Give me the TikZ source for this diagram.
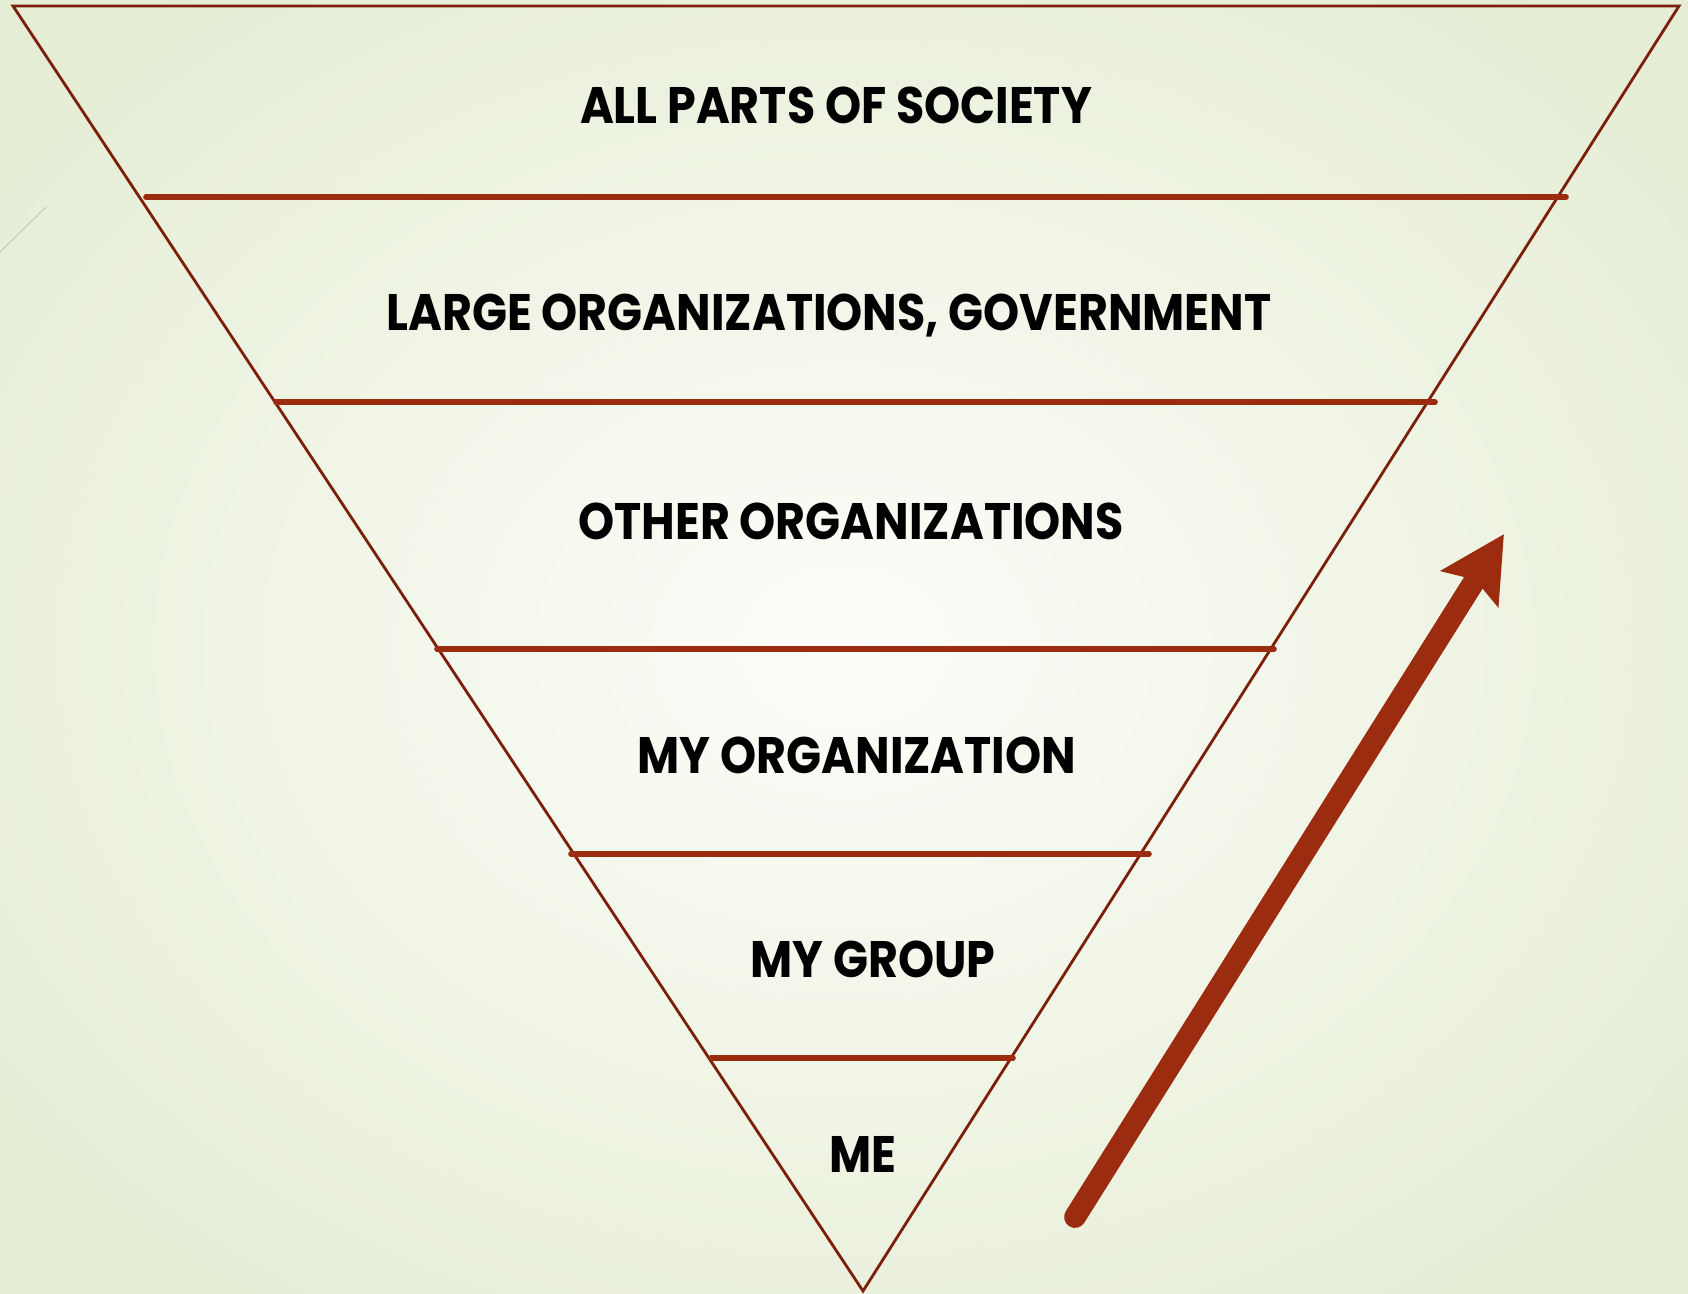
\documentclass[tikz,border=0pt]{standalone}
\usepackage{fontspec}
\setmainfont{Poppins}[FakeStretch=0.895]
\usetikzlibrary{arrows.meta,shadings}

\definecolor{rust}{HTML}{9B2C10}
\definecolor{darkrust}{HTML}{7C1F0B}
\definecolor{paleleaf}{HTML}{E5EDD4}
\definecolor{paleglow}{HTML}{FCFDF9}

\begin{document}
\begin{tikzpicture}[x=0.01cm,y=-0.01cm,font=\bfseries\fontsize{14.6}{17}\selectfont]
\tikzstyle{edge}=[draw=darkrust,line width=0.8pt,line join=miter]
\tikzstyle{tier}=[draw=rust,line width=1.6pt,line cap=round]
\tikzstyle{level}=[anchor=base,inner sep=0pt,text=black]
\tikzstyle{rise}=[-{Stealth[length=6.4mm,width=6.6mm,inset=1mm]},draw=rust,fill=rust,line width=6.2pt,line cap=round]
\useasboundingbox (0,0) rectangle (1688,1293);
\shade[inner color=paleglow,outer color=paleleaf] (-250,-200) rectangle (1938,1493);
\draw[black!22,line width=0.3pt] (0,252) -- (46,207);
%% TikZ-figure elements %%
\coordinate (C0) at (13,6);
\coordinate (C1) at (1679,6);
\coordinate (C2) at (863,1291);
\coordinate (A0) at (146,197);
\coordinate (B0) at (1566,197);
\coordinate (A1) at (276,402);
\coordinate (B1) at (1435,402);
\coordinate (A2) at (437,649);
\coordinate (B2) at (1274,649);
\coordinate (A3) at (571,854);
\coordinate (B3) at (1149,854);
\coordinate (A4) at (711,1058);
\coordinate (B4) at (1013,1058);
\coordinate (S) at (1075,1217);
\coordinate (E) at (1504,534);
\node[level] at (836,123) (N0) {ALL PARTS OF SOCIETY};
\node[level] at (829,330) (N1) {LARGE ORGANIZATIONS, GOVERNMENT};
\node[level] at (851,539) (N2) {OTHER ORGANIZATIONS};
\node[level] at (857,773) (N3) {MY ORGANIZATION};
\node[level] at (873,977) (N4) {MY GROUP};
\node[level] at (863,1172) (N5) {ME};
\draw[edge] (C0) -- (C1) -- (C2) -- cycle;
\draw[tier] (A0) -- (B0);
\draw[tier] (A1) -- (B1);
\draw[tier] (A2) -- (B2);
\draw[tier] (A3) -- (B3);
\draw[tier] (A4) -- (B4);
\draw[rise] (S) -- (E);
\end{tikzpicture}
\end{document}
